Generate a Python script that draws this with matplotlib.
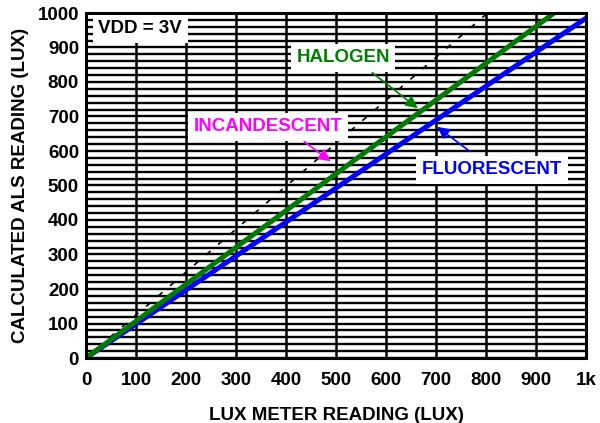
import numpy as np
import matplotlib.pyplot as plt

plt.rcParams['font.family'] = ['Liberation Sans', 'DejaVu Sans']
plt.rcParams['font.weight'] = 'bold'

# lux meter reading vs calculated ALS reading
lux = [0, 1000]
fluorescent = [0, 985]
halogen = [0, 1068]
incandescent = [0, 1245]

x_ticks = [0, 100, 200, 300, 400, 500, 600, 700, 800, 900, 1000]
x_labels = ['0', '100', '200', '300', '400', '500', '600', '700', '800', '900', '1k']
y_ticks = [0, 100, 200, 300, 400, 500, 600, 700, 800, 900, 1000]

fs = 13.5

fig = plt.figure(figsize=(6, 4.23), dpi=100)
ax = fig.add_axes([86/600, 65/423, 500/600, 345/423])

# grid
for gx in x_ticks:
    ax.axvline(gx, color='black', lw=1.8, zorder=1)
for gy in np.arange(0, 1001, 20):
    ax.axhline(gy, color='black', lw=1.7, zorder=1)

ax.plot(lux, incandescent, color='black', lw=1.2, ls=(0, (3.5, 6)), zorder=2)
ax.plot(lux, fluorescent, color='#0000ff', lw=3.6, zorder=3, solid_capstyle='butt')
ax.plot(lux, halogen, color='#007a00', lw=3.6, zorder=4, solid_capstyle='butt')

ax.set_xlim(0, 1000)
ax.set_ylim(0, 1000)
ax.set_xticks(x_ticks)
ax.set_xticklabels(x_labels)
ax.set_yticks(y_ticks)
ax.tick_params(axis='y', length=0, labelsize=fs, pad=5)
ax.tick_params(axis='x', length=0, labelsize=fs, pad=10)
for lab in ax.get_xticklabels() + ax.get_yticklabels():
    lab.set_fontweight('bold')
for s in ax.spines.values():
    s.set_linewidth(2.2)
    s.set_zorder(6)

ax.set_xlabel('LUX METER READING (LUX)', fontsize=fs, fontweight='bold', labelpad=13)
ax.set_ylabel('CALCULATED ALS READING (LUX)', fontsize=fs, fontweight='bold', labelpad=6)

box = dict(facecolor='white', edgecolor='none', pad=4)
ax.text(108, 954, 'VDD = 3V', ha='center', va='center', fontsize=fs,
        fontweight='bold', color='black', bbox=box, zorder=7)
ax.text(514, 870, 'HALOGEN', ha='center', va='center', fontsize=fs,
        fontweight='bold', color='#008000', bbox=box, zorder=7)
ax.text(364, 670, 'INCANDESCENT', ha='center', va='center', fontsize=fs,
        fontweight='bold', color='#ff00ff', bbox=box, zorder=7)
ax.text(812, 545, 'FLUORESCENT', ha='center', va='center', fontsize=fs,
        fontweight='bold', color='#0000ff', bbox=box, zorder=7)

ax.annotate('', xy=(668, 719), xytext=(568, 832),
            arrowprops=dict(arrowstyle='-|>', color='#008000', lw=1.2, mutation_scale=18), zorder=8)
ax.annotate('', xy=(494, 565), xytext=(432, 632),
            arrowprops=dict(arrowstyle='-|>', color='#ff00ff', lw=1.2, mutation_scale=18), zorder=8)
ax.annotate('', xy=(698, 675), xytext=(772, 594),
            arrowprops=dict(arrowstyle='-|>', color='#0000ff', lw=1.2, mutation_scale=18), zorder=8)

plt.savefig('out.png', dpi=100)
